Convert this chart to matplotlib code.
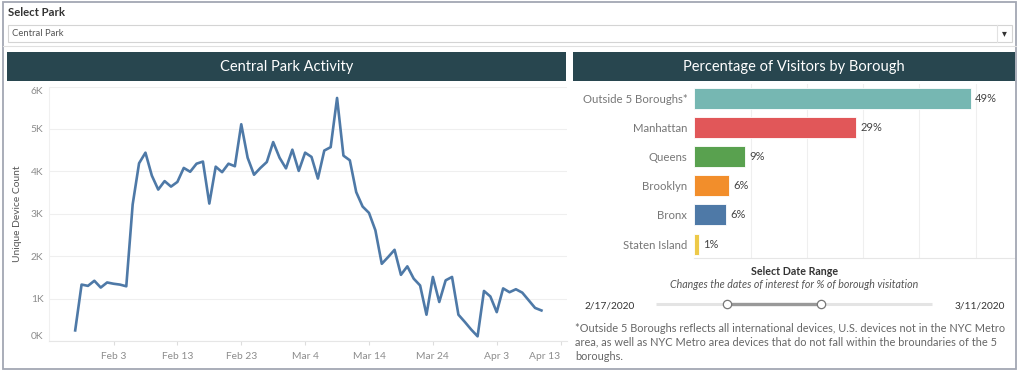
import numpy as np
import pandas as pd
import matplotlib
matplotlib.use("Agg")
import matplotlib.pyplot as plt
import matplotlib.transforms as mtransforms
from matplotlib.patches import Rectangle

# ---- data ----
start_date = "2020-01-28"
device_counts = [
    250, 1330, 1300, 1420,                                    # Jan 28-31
    1260, 1380, 1350, 1330, 1290, 3220, 4190, 4440, 3900, 3570,  # Feb 1-10
    3770, 3640, 3750, 4080, 3990, 4180, 4230, 3240, 4110, 3980,  # Feb 11-20
    4180, 4120, 5110, 4320, 3920, 4080, 4220, 4690, 4320,        # Feb 21-29
    4070, 4510, 4010, 4440, 4340, 3830, 4490, 4570, 5730, 4370,  # Mar 1-10
    4260, 3510, 3170, 3020, 2610, 1820, 1980, 2150, 1560, 1760,  # Mar 11-20
    1470, 1310, 620, 1510, 920, 1430, 1510, 620, 450, 270, 110,  # Mar 21-31
    1180, 1050, 680, 1240, 1150, 1220, 1140, 960, 780, 720,      # Apr 1-10
]
tick_dates = ["2020-02-03", "2020-02-13", "2020-02-23", "2020-03-04",
              "2020-03-14", "2020-03-24", "2020-04-03", "2020-04-13"]

boroughs = ["Outside 5 Boroughs*", "Manhattan", "Queens", "Brooklyn", "Bronx", "Staten Island"]
visitor_pct = [49.2, 28.8, 9.1, 6.2, 5.7, 0.8]
borough_colors = ["#76B7B2", "#E15759", "#59A14F", "#F28E2B", "#4E79A7", "#EDC948"]

range_start, range_end = "2/17/2020", "3/11/2020"
footnote = ("*Outside 5 Boroughs reflects all international devices, U.S. devices not in the NYC Metro\n"
            "area, as well as NYC Metro area devices that do not fall within the broundaries of the 5\n"
            "boroughs.")

W, H = 1024, 376
plt.rcParams["font.family"] = ["Lato", "DejaVu Sans"]
fig = plt.figure(figsize=(W / 100, H / 100), dpi=100)

HEADER = "#28464F"
TICK = "#8C8C8C"
GRID = "#EFEFEF"


def fx(x):
    return x / W


def fy(y):
    return 1 - y / H


def rect_px(x0, y0, x1, y1):
    return [fx(x0), fy(y1), (x1 - x0) / W, (y1 - y0) / H]


def box(x0, y0, x1, y1, **kw):
    fig.add_artist(Rectangle((fx(x0), fy(y1)), (x1 - x0) / W, (y1 - y0) / H,
                             transform=fig.transFigure, **kw))


# outer frame and parameter control
box(3, 2, 1016, 369, fill=False, edgecolor="#A3A7B3", lw=1.3)
fig.text(fx(8), fy(13), "Select Park", fontsize=8.2, fontweight="bold", color="#333333", va="center")
box(8, 25, 1012, 41.5, facecolor="white", edgecolor="#D4D4D4", lw=0.8)
fig.add_artist(plt.Line2D([fx(997), fx(997)], [fy(25), fy(41.5)], color="#E2E2E2", lw=0.8,
                          transform=fig.transFigure))
fig.text(fx(12), fy(33.3), "Central Park", fontsize=6.8, color="#555555", va="center")
fig.text(fx(1004), fy(33.5), "\u25BE", fontsize=7, color="#333333", va="center", ha="center")
fig.add_artist(plt.Line2D([fx(3), fx(1016)], [fy(46), fy(46)], color="#E0E0E0", lw=0.8,
                          transform=fig.transFigure))

# header bars
box(7, 52, 566, 80.5, facecolor=HEADER, edgecolor="none")
box(573, 52, 1015, 80.5, facecolor=HEADER, edgecolor="none")
fig.text(fx(286.5), fy(66.5), "Central Park Activity", fontsize=10.5, color="white", ha="center", va="center")
fig.text(fx(794), fy(66.5), "Percentage of Visitors by Borough", fontsize=10.5, color="white",
         ha="center", va="center")

# ---- line chart ----
dates = pd.date_range(start_date, periods=len(device_counts), freq="D")
ax1 = fig.add_axes(rect_px(49, 86.5, 567, 341))
ax1.plot(dates, device_counts, color="#4E79A7", lw=1.9, solid_joinstyle="round")
ticks = pd.to_datetime(tick_dates)
ax1.set_xticks(ticks)
ax1.set_xticklabels([f"{d:%b} {d.day}" for d in ticks])
ax1.set_xlim(ticks[0] - pd.Timedelta(days=10.1), ticks[-1] + pd.Timedelta(days=1.0))
ax1.set_ylim(0, 6000)
ax1.set_yticks(np.arange(0, 6001, 1000))
ax1.set_yticklabels([f"{v // 1000}K" for v in range(0, 6001, 1000)])
ylabels = ax1.get_yticklabels()
ylabels[0].set_va("bottom")
ylabels[-1].set_va("top")
last_x = ax1.get_xticklabels()[-1]
last_x.set_ha("right")
last_x.set_transform(last_x.get_transform() + mtransforms.ScaledTranslation(0.055, 0, fig.dpi_scale_trans))
ax1.grid(axis="y", color=GRID, lw=0.8)
ax1.set_axisbelow(True)
for side in ["top", "right"]:
    ax1.spines[side].set_visible(False)
ax1.spines["left"].set_color("#F0F0F0")
ax1.spines["bottom"].set_color("#E6E6E6")
ax1.tick_params(axis="y", length=0, pad=4, labelsize=7.4, labelcolor=TICK)
ax1.tick_params(axis="x", length=3, color="#DDDDDD", pad=5, labelsize=7.4, labelcolor=TICK)
ax1.set_ylabel("Unique Device Count", fontsize=7.4, color="#555555", labelpad=6)

# ---- bar chart ----
ax2 = fig.add_axes(rect_px(694.3, 84, 1015, 257.5))
ypos = np.arange(len(boroughs))
ax2.barh(ypos, visitor_pct, height=0.72, color=borough_colors, edgecolor="white", lw=0.6, zorder=3)
for y, v in zip(ypos, visitor_pct):
    ax2.text(v + 0.7, y, f"{round(v)}%", va="center", ha="left", fontsize=8, color="#444444")
ax2.set_yticks(ypos)
ax2.set_yticklabels(boroughs)
ax2.set_ylim(len(boroughs) - 0.54, -0.49)
ax2.set_xlim(0, 57)
ax2.set_xticks(np.arange(10, 51, 10))
ax2.tick_params(axis="x", length=0, labelbottom=False)
ax2.tick_params(axis="y", length=0, pad=5, labelsize=8.2, labelcolor="#777777")
ax2.grid(axis="x", color=GRID, lw=0.8)
ax2.set_axisbelow(True)
for side in ["top", "right", "left"]:
    ax2.spines[side].set_visible(False)
ax2.spines["bottom"].set_color("#E6E6E6")

# ---- date range control ----
fig.text(fx(795), fy(271.5), "Select Date Range", fontsize=7.7, fontweight="bold", color="#333333",
         ha="center", va="center")
fig.text(fx(794), fy(284.5), "Changes the dates of interest for % of borough visitation", fontsize=7.7,
         style="italic", color="#555555", ha="center", va="center")
fig.text(fx(610), fy(306), range_start, fontsize=7.3, color="#333333", ha="center", va="center")
fig.text(fx(980), fy(306), range_end, fontsize=7.3, color="#333333", ha="center", va="center")
fig.add_artist(plt.Line2D([fx(656), fx(932)], [fy(304), fy(304)], color="#E4E4E4", lw=2.2,
                          transform=fig.transFigure, solid_capstyle="butt"))
fig.add_artist(plt.Line2D([fx(727), fx(821)], [fy(304), fy(304)], color="#999999", lw=2.4,
                          transform=fig.transFigure, solid_capstyle="butt"))
for hx in (727, 821):
    fig.add_artist(plt.Line2D([fx(hx)], [fy(304)], marker="o", ms=6, mfc="white", mec="#777777",
                              mew=0.9, transform=fig.transFigure))

fig.text(fx(575), fy(322.5), footnote, fontsize=7.9, color="#666666", ha="left", va="top",
         linespacing=1.38)

fig.savefig("out.png", dpi=100)
